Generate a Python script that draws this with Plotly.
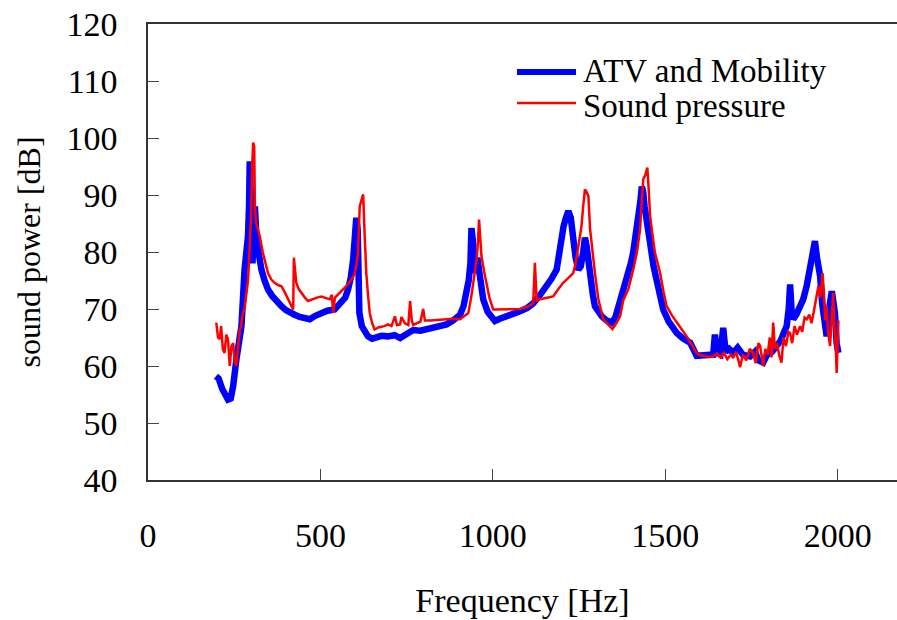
import plotly.graph_objects as go

# ATV and Mobility (blue)
blue_f = [197,205,215,225,232,240,247,256,263,271,280,286,290,293,295,298,303,307,310,315,322,329,338,348,360,373,387,400,412,425,440,455,469,485,503,520,541,560,572,580,588,595,600,604,608,613,620,630,638,650,663,677,695,715,731,750,769,790,818,840,866,885,905,915,923,930,935,938,942,948,955,962,972,985,1006,1020,1040,1060,1079,1100,1117,1135,1156,1170,1185,1192,1198,1205,1212,1219,1226,1233,1240,1248,1255,1262,1267,1272,1282,1290,1296,1305,1316,1330,1345,1355,1365,1378,1390,1400,1407,1415,1422,1428,1432,1436,1440,1447,1455,1466,1480,1494,1510,1533,1550,1572,1591,1600,1620,1639,1644,1650,1660,1668,1675,1685,1697,1710,1725,1746,1760,1770,1784,1795,1810,1823,1835,1845,1852,1858,1862,1866,1871,1880,1890,1900,1910,1920,1927,1934,1940,1945,1949,1955,1962,1968,1975,1983,1988,1992,1997,2002]
blue_db = [58.2,57.8,56,54.5,54.1,54.3,56.5,61,64,67,76.9,80,82.8,88,95.9,90,78,84,88,82,79,76.9,75,73.4,72.3,71.3,70.5,69.8,69.3,69,68.6,68.3,68.2,68.8,69.4,69.7,69.9,71,72,73.4,75.5,78.7,83,86,84,69.3,67,65.8,65.2,64.8,65,65.3,65.2,65.4,64.9,65.5,66.3,66.2,66.7,66.8,67.3,68,69,70.5,72.8,75,78,84.2,82,76.3,79,75,71.7,69.5,67.9,68.3,68.7,69.1,69.6,70.2,71,72.3,74,75.3,76.9,79.5,82.8,84.5,86,87.2,86,82.2,79,76.9,77.5,80,82.5,81,75.2,72.5,70.5,69.5,68.7,68,67.6,68.5,70.5,72.8,75.5,78,79.9,83,86.9,89,91.5,90.5,88,85.7,82,77.5,73.5,69.9,67.8,65.8,64.9,64.1,61.8,61.8,61.9,62,65.5,62.3,62,66.7,62.5,63,62.3,63.2,62,61.7,62.5,61,60.6,62,62.5,63.5,64.5,66,67,70,74.3,70,68.2,69,70.5,71.7,74,76.9,79,81.9,79,77.5,75.8,71,67,65.2,70,73.1,71,69.3,64,62.3]

# Sound pressure (red)
red_f = [198,203,208,212,217,222,227,232,237,242,247,251,256,261,266,270,275,280,285,290,295,299,302,305,308,310,314,319,324,333,340,348,357,367,377,387,396,406,414,421,423,427,430,437,445,455,464,475,490,503,515,527,533,537,542,550,561,575,590,598,604,609,614,619,624,628,633,638,643,650,657,670,685,696,706,716,722,731,735,745,755,760,765,769,780,790,798,803,818,840,866,885,905,920,929,937,943,948,953,957,960,964,967,975,982,990,1001,1020,1040,1060,1079,1100,1117,1122,1127,1137,1155,1175,1190,1204,1220,1233,1240,1248,1257,1262,1267,1272,1277,1282,1290,1296,1306,1320,1335,1347,1358,1369,1378,1393,1407,1418,1427,1436,1442,1448,1452,1456,1463,1470,1478,1485,1495,1504,1518,1533,1548,1562,1575,1585,1596,1610,1625,1639,1650,1660,1670,1680,1690,1697,1705,1712,1717,1725,1735,1745,1755,1762,1770,1775,1780,1784,1790,1797,1803,1808,1813,1818,1824,1830,1837,1843,1850,1857,1862,1868,1875,1882,1891,1897,1904,1910,1918,1924,1930,1936,1940,1944,1950,1956,1960,1964,1968,1972,1978,1983,1987,1990,1994,1997,2000,2002]
red_db = [67.6,65,64.7,67,63,62.3,65.5,64.7,60,63.5,64,61,60,63,66.4,67,69.3,70,72.8,75,81,86,95,99.2,98.5,88,85,84,82.8,79.9,78,76.3,75.2,74.6,74.2,74,73,71.7,70.8,69.9,79,75.5,74.6,73.5,72.8,72,71.4,71.7,72,72.2,72,71.7,72.5,69.3,72,72.5,73.1,74,75.2,76,77.5,80,88,89,90.1,83.4,76.3,72.5,69.3,67.5,66.4,66.8,67,67.3,67,68.7,67.2,67.3,68.6,67.5,67.2,71.4,68,67.2,67.5,67.8,70,68,68,68.1,68.2,68.3,68.2,68.8,69.3,72,74.6,76.5,78.7,82,85.7,82,79.3,76.5,74.6,72,69.9,69.9,69.9,70,70,70.4,71,78.1,71.5,71.7,72,72.2,73.5,74.6,75.5,76.3,78,81,84.5,88,91,90.5,89.8,84,79,76.3,71.7,68.2,67.2,66.5,67.5,68.7,71.5,73.5,76.9,80,84,92.7,93.5,94.8,91,86.3,83,79.9,78,76.3,73,70.5,69,67.6,66.4,65.2,64,62.8,62,61.8,61.6,61.7,62.2,61.5,62.3,61.2,62,61.4,62.5,61,59.8,62,61,63,62.3,60.5,64,63.5,61,60,63,62,65,61.5,67.6,63,64,62,60.6,65,63.5,66,65.8,64,67,65.5,67,66,68.5,68.2,69,67.5,69.3,71.5,73,74,72,76.3,73,68,70.5,66,63.5,69,72.8,67,64,58.8,64,68]

x_ticks = [0, 500, 1000, 1500, 2000]
y_ticks = [40, 50, 60, 70, 80, 90, 100, 110, 120]

FONT = "Liberation Serif, Times New Roman, serif"

fig = go.Figure()
fig.add_trace(go.Scatter(x=blue_f, y=blue_db, mode="lines", name="ATV and Mobility",
                         line=dict(color="#0000ff", width=6.5), showlegend=False))
fig.add_trace(go.Scatter(x=red_f, y=red_db, mode="lines", name="Sound pressure",
                         line=dict(color="#ff0000", width=2.5), showlegend=False))

# plot area spans x 148..897, y 24..480 on screen
PW, PH = 749, 456
def px(x):
    return (x - 148) / PW
def py(y):
    return (480 - y) / PH

# legend drawn manually (long line samples)
fig.add_shape(type="line", xref="paper", yref="paper", x0=px(517), x1=px(576),
              y0=py(72), y1=py(72), line=dict(color="#0000ff", width=6))
fig.add_shape(type="line", xref="paper", yref="paper", x0=px(517), x1=px(576),
              y0=py(103), y1=py(103), line=dict(color="#ff0000", width=2.5))
fig.add_annotation(text="ATV and Mobility", xref="paper", yref="paper", x=px(581),
                   y=py(71), xanchor="left", yanchor="middle", showarrow=False,
                   font=dict(family=FONT, size=33, color="black"))
fig.add_annotation(text="Sound pressure", xref="paper", yref="paper", x=px(581),
                   y=py(106), xanchor="left", yanchor="middle", showarrow=False,
                   font=dict(family=FONT, size=33, color="black"))

fig.update_layout(
    width=897, height=620,
    margin=dict(l=148, r=0, t=24, b=140),
    paper_bgcolor="white", plot_bgcolor="white",
    font=dict(family=FONT, size=34, color="black"),
    showlegend=False,
    xaxis=dict(range=[0, 2172], tickvals=x_ticks, ticks="inside", ticklen=11,
               tickcolor="#444", showline=True, linecolor="#333", linewidth=1.5,
               mirror=True, showgrid=False, zeroline=False, ticklabelstandoff=24,
               automargin=False, ticklabeloverflow="allow",
               tickfont=dict(family=FONT, size=34),
               title=dict(text="Frequency [Hz]", standoff=36,
                          font=dict(family=FONT, size=34))),
    yaxis=dict(range=[40, 120], tickvals=y_ticks, ticks="inside", ticklen=11,
               tickcolor="#444", showline=True, linecolor="#333", linewidth=1.5,
               showgrid=False, zeroline=False, ticklabelstandoff=22,
               automargin=False, ticklabeloverflow="allow",
               tickfont=dict(family=FONT, size=34),
               title=dict(text="sound power [dB]", standoff=16,
                          font=dict(family=FONT, size=32))),
)

fig.write_html("out.html", config={"displayModeBar": False},
               post_script="document.body.style.margin='0';document.body.style.overflow='hidden';")
